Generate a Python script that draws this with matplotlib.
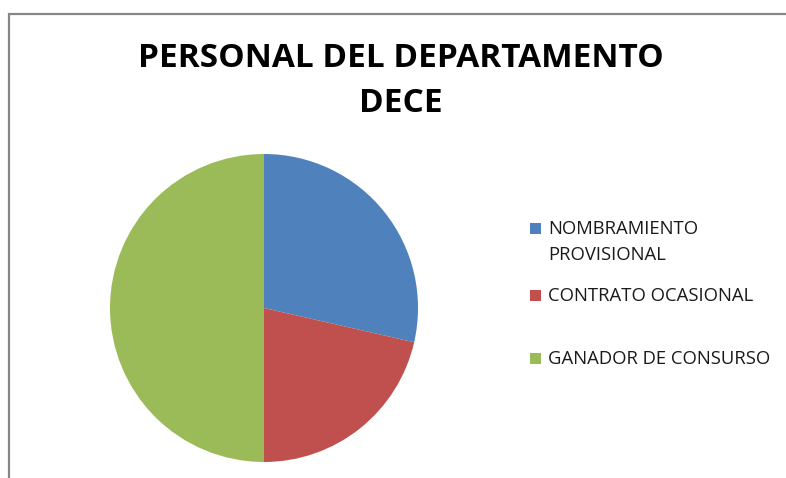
import matplotlib.pyplot as plt
from matplotlib.patches import Rectangle

# datos del grafico
categorias = ["NOMBRAMIENTO\nPROVISIONAL", "CONTRATO OCASIONAL", "GANADOR DE CONSURSO"]
valores = [4, 3, 7]
colores = ["#4F81BD", "#C0504D", "#9BBB59"]
titulo = "PERSONAL DEL DEPARTAMENTO\nDECE"

W, H = 786, 478
fig = plt.figure(figsize=(W / 100, H / 100), dpi=100)
fig.patch.set_facecolor("white")

# marco del grafico (se sale por la derecha y por abajo)
marco = Rectangle((9 / W, -0.1), 1.1, 1 - 14 / H + 0.1,
                  transform=fig.transFigure, facecolor="none",
                  edgecolor="#868686", linewidth=1.6, zorder=5)
fig.patches.append(marco)

fig.text(401 / W, 1 - 81 / H, titulo, ha="center", va="center",
         fontsize=24, fontweight="bold", family="Open Sans",
         linespacing=1.5, color="black")

ax = fig.add_axes([110 / W, 16 / H, 308 / W, 308 / H])
wedges, _ = ax.pie(valores, colors=colores, startangle=90, counterclock=False,
                   radius=1.0, wedgeprops=dict(linewidth=0))
ax.set_xlim(-1, 1)
ax.set_ylim(-1, 1)
ax.set_aspect("equal")
ax.axis("off")

# leyenda a mano: cuadrado alineado con la primera linea del texto
y_leyenda = [228, 295, 358]
for cat, col, y in zip(categorias, colores, y_leyenda):
    fig.patches.append(Rectangle((530 / W, 1 - (y + 5.5) / H), 11 / W, 11 / H,
                                 transform=fig.transFigure, facecolor=col,
                                 edgecolor="none"))
    fig.text(548 / W, 1 - (y - 8) / H, cat, ha="left", va="top",
             fontsize=13.3, family="Open Sans", color="#1a1a1a",
             linespacing=1.6)

fig.savefig("out.png", dpi=100, facecolor="white")
